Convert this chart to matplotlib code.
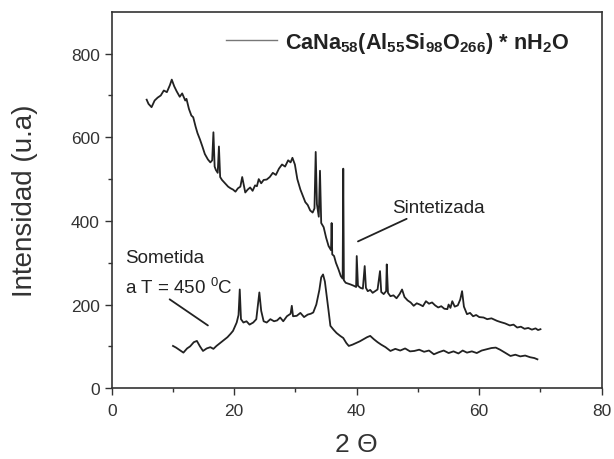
import numpy as np
import matplotlib
matplotlib.use("Agg")
import matplotlib.pyplot as plt
from matplotlib.lines import Line2D

plt.rcParams['font.family'] = ['Liberation Sans', 'DejaVu Sans']
plt.rcParams['mathtext.fontset'] = 'custom'
plt.rcParams['mathtext.rm'] = 'Liberation Sans'
plt.rcParams['mathtext.bf'] = 'Liberation Sans:bold'

# Sintetizada (upper curve)
sint_x = [5.7, 6.0, 6.5, 7.0, 7.5, 8.0, 8.5, 9.0, 9.5, 9.8, 10.2, 10.6,
          11.1, 11.5, 12.0, 12.2, 12.6, 13.0, 13.3, 13.7, 14.0, 14.4, 14.8, 15.2, 15.7,
          16.1, 16.4, 16.6, 16.8, 17.0, 17.3, 17.5, 17.7, 18.0, 18.5, 19.0, 19.4, 19.8,
          20.2, 20.6, 21.0, 21.3, 21.5, 21.8, 22.2, 22.6, 23.0, 23.4, 23.7, 24.0, 24.4, 24.8, 25.3,
          25.8, 26.3, 26.8, 27.3, 27.8, 28.3, 28.8, 29.2, 29.5, 29.9, 30.3, 30.8, 31.2, 31.6, 32.0, 32.4, 32.8,
          33.1, 33.3, 33.5, 33.8, 34.0, 34.2, 34.6, 35.0, 35.4, 35.8, 35.9, 36.0, 36.3, 36.6, 37.0, 37.4, 37.7, 37.8, 37.9, 38.2, 38.6,
          39.0, 39.5, 39.9, 40.0, 40.2, 40.6, 41.0, 41.3, 41.5, 41.8, 42.2, 42.6, 43.0, 43.4, 43.8, 44.0, 44.4, 44.8, 44.9, 45.1, 45.5,
          46.0, 46.5, 47.0, 47.4, 47.8, 48.3, 48.8, 49.3, 49.8, 50.3, 50.8, 51.3, 51.8, 52.3, 52.8, 53.3, 53.8, 54.3, 54.8, 55.0,
          55.3, 55.6, 56.0, 56.5, 56.9, 57.2, 57.5,
          58.0, 58.5, 59.0, 59.5, 60.0, 60.7, 61.3, 62.0, 62.9, 63.5, 64.2, 65.0, 65.6, 66.2, 66.8, 67.4, 68.0, 68.6, 69.2, 69.6, 70.0]
sint_y = [690, 680, 672, 688, 695, 700, 712, 708, 725, 738, 722, 710,
          697, 705, 688, 692, 668, 652, 648, 625, 610, 595, 578, 560, 547,
          540, 545, 612, 530, 522, 515, 578, 505, 498, 490, 482, 478, 475,
          470, 478, 482, 505, 490, 468, 475, 480, 472, 485, 483, 500, 490, 498, 499,
          505, 515, 510, 525, 535, 530, 545, 540, 551, 535, 500, 475, 460, 445, 438, 425, 420,
          430, 565, 440, 410, 520, 395, 385, 360, 340, 330, 395, 320, 316, 300, 285, 268, 262, 525, 258, 252, 250,
          248, 245, 242, 316, 245, 240, 238, 292, 240, 232, 235, 228, 232, 236, 280, 230, 225, 232, 296, 228, 220,
          222, 215, 225, 236, 218, 210, 205, 197, 203, 200, 196, 208, 202, 205, 198, 193, 196, 190, 189, 200,
          192, 208, 195, 198, 212, 232, 195,
          177, 180, 172, 175, 170, 169, 165, 167, 161, 158, 155, 150, 152, 145, 147, 142, 144, 140, 143, 139, 141]

# Sometida a T = 450 C (lower curve)
som_x = [10.0, 10.5, 11.0, 11.7, 12.3, 12.8, 13.4, 13.9, 14.4, 14.9,
         15.5, 16.1, 16.6, 17.1, 17.7, 18.3, 18.9, 19.4, 19.8, 20.4,
         20.7, 20.9, 21.1, 21.5, 22.0, 22.5, 23.1, 23.6, 24.1, 24.4,
         24.8, 25.3, 25.9, 26.5, 27.0, 27.5, 28.0, 28.6, 29.2, 29.4,
         29.6, 30.2, 30.8, 31.4, 32.0, 32.5, 32.9, 33.4, 33.9, 34.2,
         34.5, 34.8, 35.1, 35.4, 35.7, 36.2, 36.7, 37.3, 37.8, 38.3,
         38.7, 39.3, 39.9, 40.5, 41.1, 41.7, 42.2, 42.8, 43.4, 44.0,
         44.7, 45.5, 46.3, 47.1, 47.9, 48.7, 49.4, 50.2, 51.0, 51.8,
         52.6, 53.4, 54.2, 55.0, 55.8, 56.6, 57.3, 58.0, 58.8, 59.6,
         60.4, 61.2, 62.0, 62.7, 63.4, 64.2, 65.1, 65.9, 66.7, 67.5,
         68.3, 69.0, 69.5]
som_y = [101, 97, 92, 85, 95, 100, 110, 113, 100, 89,
         95, 98, 94, 101, 108, 115, 122, 130, 137, 157,
         175, 236, 165, 157, 160, 152, 157, 165, 229, 185,
         160, 157, 165, 160, 162, 169, 160, 172, 178, 197,
         172, 173, 180, 170, 176, 178, 181, 200, 235, 265,
         272, 255, 220, 185, 149, 140, 132, 125, 120, 108,
         101, 104, 108, 112, 117, 122, 125, 117, 110, 104,
         98, 89, 94, 90, 95, 88, 89, 92, 87, 90,
         81, 86, 90, 84, 88, 83, 90, 85, 88, 84,
         90, 93, 96, 97, 92, 85, 77, 80, 76, 78,
         74, 72, 69]

legend_label = (r'CaNa$_{\mathbf{58}}$(Al$_{\mathbf{55}}$Si$_{\mathbf{98}}$'
                r'O$_{\mathbf{266}}$) * nH$_{\mathbf{2}}$O')

fig = plt.figure(figsize=(6.14, 4.6), dpi=100)
ax = fig.add_axes([0.182, 0.154, 0.798, 0.818])

ax.plot(sint_x, sint_y, color='#222222', lw=1.3)
ax.plot(som_x, som_y, color='#222222', lw=1.3)

ax.set_xlim(0, 80)
ax.set_ylim(0, 900)
ax.set_xticks([0, 20, 40, 60, 80])
ax.set_xticks([10, 30, 50, 70], minor=True)
ax.set_yticks([0, 200, 400, 600, 800])
ax.set_yticks([100, 300, 500, 700], minor=True)
ax.tick_params(which='major', direction='out', length=5, width=1.0,
               labelsize=12.5, colors='#333333')
ax.tick_params(axis='x', which='major', pad=6)
ax.tick_params(which='minor', direction='out', length=3, width=1.0, colors='#333333')
for s in ax.spines.values():
    s.set_color('#333333')
    s.set_linewidth(1.2)

ax.set_xlabel('2 \u0398', fontsize=19, color='#333333', labelpad=10)
ax.set_ylabel('Intensidad (u.a)', fontsize=20, color='#333333', labelpad=24)

handle = Line2D([], [], color='#777777', lw=1.0)
leg = ax.legend([handle], [legend_label], loc='upper right', frameon=False,
                bbox_to_anchor=(0.95, 0.975), borderaxespad=0,
                prop={'weight': 'bold', 'size': 15.6}, handlelength=2.35, handletextpad=0.35)
for t in leg.get_texts():
    t.set_color('#222222')

ax.annotate('Sintetizada', xy=(40.2, 351), xytext=(45.8, 432),
            fontsize=13.5, color='#222222', va='center',
            arrowprops=dict(arrowstyle='-', color='#222222', lw=1.3,
                            shrinkA=0, shrinkB=0, relpos=(0.22, 0)))
ax.text(2.1, 313, 'Sometida', fontsize=13.5, color='#222222', va='center')
ax.annotate(r'a T = 450 $^{\mathrm{0}}$C', xy=(15.7, 150), xytext=(2.1, 244),
            fontsize=13.5, color='#222222', va='center',
            arrowprops=dict(arrowstyle='-', color='#222222', lw=1.3,
                            shrinkA=0, shrinkB=0, relpos=(0.38, 0)))

fig.savefig('out.png', dpi=100)
